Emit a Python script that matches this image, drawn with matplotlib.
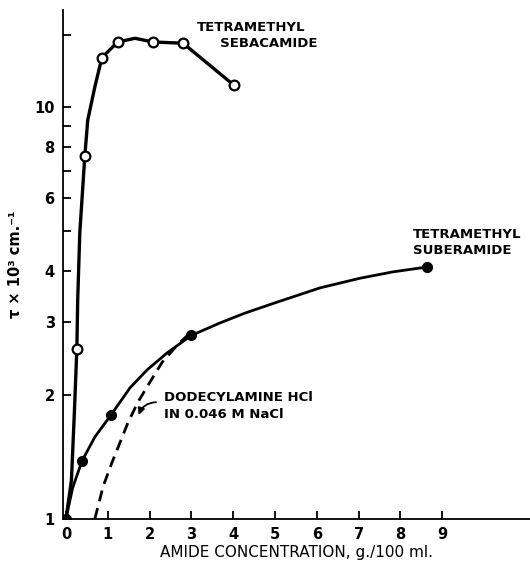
#!/usr/bin/env python3

import matplotlib
matplotlib.use("Agg")
import matplotlib.pyplot as plt
from matplotlib.ticker import FixedLocator, NullFormatter

# tetramethyl sebacamide: measured points (open circles) and the drawn curve
seb_x = [0.26, 0.45, 0.86, 1.24, 2.08, 2.80, 4.02]
seb_y = [2.59, 7.6, 13.2, 14.4, 14.4, 14.3, 11.3]
seb_curve_x = [0.0, 0.13, 0.20, 0.26, 0.28, 0.33, 0.45, 0.52, 0.69, 0.86, 1.24, 1.65, 2.08, 2.80, 4.02]
seb_curve_y = [1.0, 1.24, 1.81, 2.59, 3.4, 4.95, 7.6, 9.3, 11.2, 13.2, 14.4, 14.7, 14.4, 14.3, 11.3]

# tetramethyl suberamide: measured points (filled circles) and the drawn curve
sub_x = [0.0, 0.38, 1.08, 3.0, 8.64]
sub_y = [1.0, 1.38, 1.79, 2.79, 4.09]
sub_curve_x = [0.0, 0.07, 0.16, 0.38, 0.69, 1.08, 1.53, 1.94, 2.42, 3.0, 3.68, 4.28, 5.05,
               6.08, 7.03, 7.82, 8.64]
sub_curve_y = [1.0, 1.08, 1.19, 1.38, 1.58, 1.79, 2.08, 2.30, 2.53, 2.79, 2.99, 3.16, 3.36,
               3.64, 3.84, 3.98, 4.09]

# dodecylamine HCl in 0.046 M NaCl (dashed, no markers)
dod_x = [0.69, 0.89, 1.10, 1.29, 1.48, 1.72, 2.01, 2.30, 2.66, 2.97]
dod_y = [1.0, 1.20, 1.37, 1.53, 1.71, 1.92, 2.15, 2.40, 2.64, 2.83]

x_ticks = [0, 1, 2, 3, 4, 5, 6, 7, 8, 9]
y_major = [1, 2, 3, 4, 6, 8, 10]
y_minor = [5, 7, 9, 15]


def main():
    fig = plt.figure(figsize=(5.30, 5.67), dpi=100)
    ax = fig.add_axes([0.119, 0.085, 0.881, 0.897])

    ax.plot(seb_curve_x, seb_curve_y, color="black", lw=2.4, solid_capstyle="round",
            solid_joinstyle="round")
    ax.plot(seb_x, seb_y, "o", ms=7, mfc="white", mec="black", mew=1.6)

    ax.plot(sub_curve_x, sub_curve_y, color="black", lw=2.0, solid_capstyle="round",
            solid_joinstyle="round")
    ax.plot(sub_x, sub_y, "o", ms=7, color="black")

    ax.plot(dod_x, dod_y, color="black", lw=2.0, dashes=(4, 2.5))

    ax.set_yscale("log")
    ax.set_xlim(-0.07, 11.1)
    ax.set_ylim(1, 17.2)

    ax.spines["top"].set_visible(False)
    ax.spines["right"].set_visible(False)
    ax.spines["left"].set_linewidth(1.3)
    ax.spines["bottom"].set_linewidth(1.3)

    ax.xaxis.set_major_locator(FixedLocator(x_ticks))
    ax.set_xticklabels([str(t) for t in x_ticks])
    ax.yaxis.set_major_locator(FixedLocator(y_major))
    ax.yaxis.set_minor_locator(FixedLocator(y_minor))
    ax.yaxis.set_minor_formatter(NullFormatter())
    ax.set_yticklabels([str(t) for t in y_major])
    ax.tick_params(axis="both", which="both", direction="in", width=1.3, length=6,
                   labelsize=10.5, pad=6)
    for lab in ax.get_xticklabels() + ax.get_yticklabels():
        lab.set_fontweight("bold")

    ax.set_xlabel("AMIDE CONCENTRATION, g./100 ml.", fontsize=11, labelpad=2)
    ax.set_ylabel("τ × 10³ cm.⁻¹", fontsize=10.5, fontweight="bold", labelpad=8)

    ax.text(3.13, 14.9, "TETRAMETHYL\n     SEBACAMIDE", fontsize=9.5, fontweight="bold",
            ha="left", va="center", linespacing=1.3)
    ax.text(8.3, 4.7, "TETRAMETHYL\nSUBERAMIDE", fontsize=9.5, fontweight="bold",
            ha="left", va="center", linespacing=1.3)
    ax.text(2.35, 1.88, "DODECYLAMINE HCl\nIN 0.046 M NaCl", fontsize=9.5, fontweight="bold",
            ha="left", va="center", linespacing=1.4)
    ax.annotate("", xy=(1.72, 1.76), xytext=(2.22, 1.92),
                arrowprops=dict(arrowstyle="-|>", color="black", lw=1.3,
                                connectionstyle="arc3,rad=0.4"))

    fig.savefig("out.png", dpi=100)


if __name__ == "__main__":
    main()
